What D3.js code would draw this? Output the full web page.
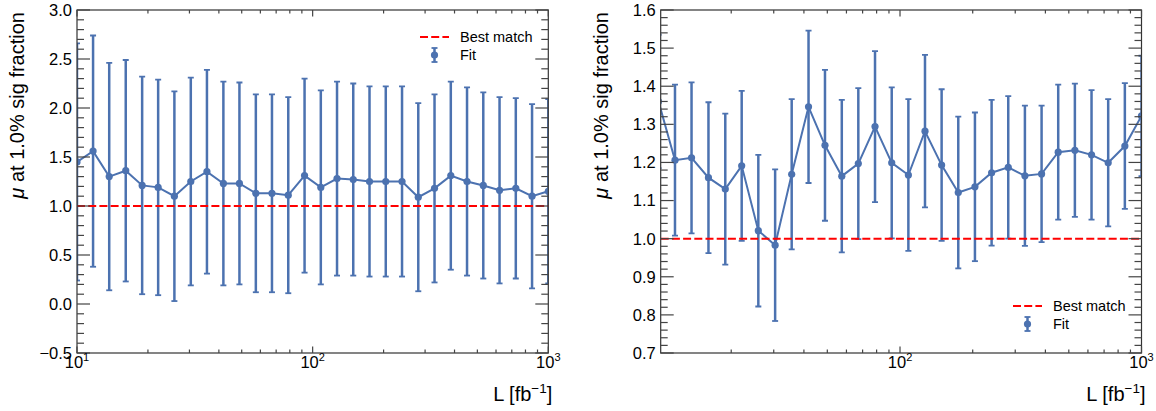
<!DOCTYPE html>
<html>
<head>
<meta charset="utf-8">
<script src="https://cdn.jsdelivr.net/npm/d3@7"></script>
<style>
  body { margin: 0; background: #fff; }
  text { font-family: "Liberation Sans", Arial, Helvetica, sans-serif; fill: #000; }
</style>
</head>
<body>
<svg id="chart" width="1156" height="411"></svg>
<script>
// luminosity points [fb^-1], shared by both panels
const lumi = [10.0, 11.7, 13.7, 16.1, 18.9, 22.1, 25.9, 30.4, 35.6, 41.8,
  48.9, 57.4, 67.2, 78.8, 92.4, 108.3, 126.9, 148.7, 174.3, 204.3,
  239.5, 280.7, 329.0, 385.7, 452.0, 529.8, 621.0, 727.9, 853.2, 1000];

// left panel fit values and errors
const muLeft = [1.45, 1.56, 1.30, 1.36, 1.21, 1.19, 1.10, 1.25, 1.35, 1.23,
  1.23, 1.13, 1.13, 1.11, 1.31, 1.19, 1.28, 1.27, 1.25, 1.25,
  1.25, 1.09, 1.18, 1.31, 1.25, 1.21, 1.16, 1.18, 1.10, 1.15];
const errLeft = [1.21, 1.18, 1.16, 1.13, 1.11, 1.10, 1.07, 1.06, 1.04, 1.04,
  1.03, 1.01, 1.01, 1.00, 0.99, 0.99, 0.99, 0.98, 0.97, 0.97,
  0.97, 0.96, 0.96, 0.96, 0.96, 0.95, 0.95, 0.92, 0.94, 0.94];

// right panel fit values and errors
const muRight = [1.36, 1.206, 1.212, 1.160, 1.130, 1.191, 1.021, 0.983, 1.169, 1.346,
  1.245, 1.164, 1.197, 1.294, 1.199, 1.167, 1.282, 1.193, 1.121, 1.136,
  1.173, 1.187, 1.165, 1.170, 1.227, 1.232, 1.220, 1.199, 1.243, 1.322];
const errRight = [0.175, 0.198, 0.198, 0.198, 0.198, 0.197, 0.199, 0.199, 0.197, 0.200,
  0.198, 0.200, 0.198, 0.198, 0.198, 0.199, 0.200, 0.199, 0.199, 0.195,
  0.191, 0.187, 0.184, 0.179, 0.177, 0.175, 0.170, 0.167, 0.165, 0.158];

const yTicksLeft = [-0.5, 0.0, 0.5, 1.0, 1.5, 2.0, 2.5, 3.0];
const yTicksRight = [0.7, 0.8, 0.9, 1.0, 1.1, 1.2, 1.3, 1.4, 1.5, 1.6];
const decades = [10, 100, 1000];
const bestMatch = 1.0;
const legendLabels = ["Best match", "Fit"];

const blue = "#4c72b0";
const svg = d3.select("#chart");
const fmt = d3.format(".1f");

function drawPanel(cfg) {
  const x = d3.scaleLog().domain(cfg.xDomain).range([cfg.x0, cfg.x1]);
  const y = d3.scaleLinear().domain(cfg.yDomain).range([cfg.y1, cfg.y0]);
  const g = svg.append("g");

  g.append("clipPath").attr("id", cfg.id + "-clip")
    .append("rect")
    .attr("x", cfg.x0).attr("y", cfg.y0)
    .attr("width", cfg.x1 - cfg.x0).attr("height", cfg.y1 - cfg.y0);

  const plot = g.append("g").attr("clip-path", "url(#" + cfg.id + "-clip)");
  const pts = lumi.map((l, i) => ({ l: l, mu: cfg.mu[i], err: cfg.err[i] }));

  // error bars
  const bars = plot.selectAll(".bar").data(pts).enter().append("g");
  bars.append("line")
    .attr("x1", d => x(d.l)).attr("x2", d => x(d.l))
    .attr("y1", d => y(d.mu - d.err)).attr("y2", d => y(d.mu + d.err))
    .attr("stroke", blue).attr("stroke-width", 2.5);
  [-1, 1].forEach(s => {
    bars.append("line")
      .attr("x1", d => x(d.l) - 3).attr("x2", d => x(d.l) + 3)
      .attr("y1", d => y(d.mu + s * d.err)).attr("y2", d => y(d.mu + s * d.err))
      .attr("stroke", blue).attr("stroke-width", 1.8);
  });

  // connecting line + markers
  plot.append("path")
    .datum(pts)
    .attr("fill", "none").attr("stroke", blue).attr("stroke-width", 2)
    .attr("d", d3.line().x(d => x(d.l)).y(d => y(d.mu)));
  plot.selectAll(".dot").data(pts).enter().append("circle")
    .attr("cx", d => x(d.l)).attr("cy", d => y(d.mu)).attr("r", 3.6)
    .attr("fill", blue);

  // best match line
  plot.append("line")
    .attr("x1", cfg.x0).attr("x2", cfg.x1)
    .attr("y1", y(bestMatch)).attr("y2", y(bestMatch))
    .attr("stroke", "#ff0000").attr("stroke-width", 2)
    .attr("stroke-dasharray", "8,3.2");

  // frame
  g.append("rect")
    .attr("x", cfg.x0).attr("y", cfg.y0)
    .attr("width", cfg.x1 - cfg.x0).attr("height", cfg.y1 - cfg.y0)
    .attr("fill", "none").attr("stroke", "#333").attr("stroke-width", 1.2);

  // y ticks (inward, both sides)
  const yMinor = [];
  const nMinor = Math.round((cfg.yDomain[1] - cfg.yDomain[0]) / cfg.yMinorStep);
  for (let i = 0; i <= nMinor; i++) yMinor.push(cfg.yDomain[0] + i * cfg.yMinorStep);
  const tickColor = "#444";
  yMinor.forEach(v => {
    const isMajor = cfg.yTicks.some(t => Math.abs(t - v) < 1e-6);
    const len = isMajor ? 13 : 7;
    g.append("line").attr("x1", cfg.x0).attr("x2", cfg.x0 + len)
      .attr("y1", y(v)).attr("y2", y(v)).attr("stroke", tickColor).attr("stroke-width", 1.2);
    g.append("line").attr("x1", cfg.x1).attr("x2", cfg.x1 - len)
      .attr("y1", y(v)).attr("y2", y(v)).attr("stroke", tickColor).attr("stroke-width", 1.2);
  });
  g.selectAll(".ylab").data(cfg.yTicks).enter().append("text")
    .attr("x", cfg.x0 - 5).attr("y", d => y(d))
    .attr("dy", "0.36em").attr("text-anchor", "end")
    .attr("font-size", 16.5)
    .text(d => fmt(d));

  // x ticks (inward, both sides)
  const xMinor = [];
  [10, 100].forEach(dec => {
    for (let k = 2; k <= 9; k++) xMinor.push(dec * k);
  });
  xMinor.filter(v => v > cfg.xDomain[0] && v < cfg.xDomain[1]).forEach(v => {
    g.append("line").attr("x1", x(v)).attr("x2", x(v))
      .attr("y1", cfg.y1).attr("y2", cfg.y1 - 3.5).attr("stroke", tickColor).attr("stroke-width", 1.2);
    g.append("line").attr("x1", x(v)).attr("x2", x(v))
      .attr("y1", cfg.y0).attr("y2", cfg.y0 + 3.5).attr("stroke", tickColor).attr("stroke-width", 1.2);
  });
  const xMajor = decades.filter(v => v >= cfg.xDomain[0] - 1e-9 && v <= cfg.xDomain[1] + 1e-9);
  xMajor.forEach(v => {
    g.append("line").attr("x1", x(v)).attr("x2", x(v))
      .attr("y1", cfg.y1).attr("y2", cfg.y1 - 6.5).attr("stroke", tickColor).attr("stroke-width", 1.2);
    g.append("line").attr("x1", x(v)).attr("x2", x(v))
      .attr("y1", cfg.y0).attr("y2", cfg.y0 + 6.5).attr("stroke", tickColor).attr("stroke-width", 1.2);
    const t = g.append("text").attr("x", x(v)).attr("y", cfg.y1 + 15)
      .attr("text-anchor", "middle").attr("font-size", 16.5);
    t.append("tspan").text("10");
    t.append("tspan").attr("dy", -7).attr("font-size", 11).text(Math.round(Math.log10(v)));
  });

  // axis labels
  const xl = g.append("text")
    .attr("x", cfg.x1 + 4).attr("y", 401)
    .attr("text-anchor", "end").attr("font-size", 20);
  xl.append("tspan").text("L [fb");
  xl.append("tspan").attr("dy", -8).attr("font-size", 13.5).text("−1");
  xl.append("tspan").attr("dy", 8).text("]");

  const yl = g.append("text")
    .attr("transform", "translate(" + (cfg.x0 - 53) + "," + (cfg.y0 + 2) + ") rotate(-90)")
    .attr("text-anchor", "end").attr("font-size", 20);
  yl.append("tspan").attr("font-style", "italic").text("μ");
  yl.append("tspan").text(" at 1.0% sig fraction");

  // legend
  const lg = g.append("g");
  lg.append("line")
    .attr("x1", cfg.legX).attr("x2", cfg.legX + 29)
    .attr("y1", cfg.legY).attr("y2", cfg.legY)
    .attr("stroke", "#ff0000").attr("stroke-width", 2).attr("stroke-dasharray", "8,3.2");
  const mx = cfg.legX + 14.5, my = cfg.legY + 18;
  lg.append("line").attr("x1", mx).attr("x2", mx).attr("y1", my - 7).attr("y2", my + 7)
    .attr("stroke", blue).attr("stroke-width", 2.5);
  [-7, 7].forEach(o => {
    lg.append("line").attr("x1", mx - 3).attr("x2", mx + 3).attr("y1", my + o).attr("y2", my + o)
      .attr("stroke", blue).attr("stroke-width", 1.8);
  });
  lg.append("circle").attr("cx", mx).attr("cy", my).attr("r", 3.6).attr("fill", blue);
  lg.selectAll(".legtext").data(legendLabels).enter().append("text")
    .attr("x", cfg.legX + 40).attr("y", (d, i) => cfg.legY + i * 18)
    .attr("dy", "0.36em").attr("font-size", 14.5)
    .text(d => d);
}

drawPanel({
  id: "left", x0: 77, x1: 548.3, y0: 10, y1: 353,
  xDomain: [10, 1000], yDomain: [-0.5, 3.0], yTicks: yTicksLeft, yMinorStep: 0.1,
  mu: muLeft, err: errLeft, legX: 420, legY: 37
});

drawPanel({
  id: "right", x0: 660.7, x1: 1141.5, y0: 10, y1: 353,
  xDomain: [10.21, 1000], yDomain: [0.7, 1.6], yTicks: yTicksRight, yMinorStep: 0.02,
  mu: muRight, err: errRight, legX: 1013, legY: 306
});
</script>
</body>
</html>
